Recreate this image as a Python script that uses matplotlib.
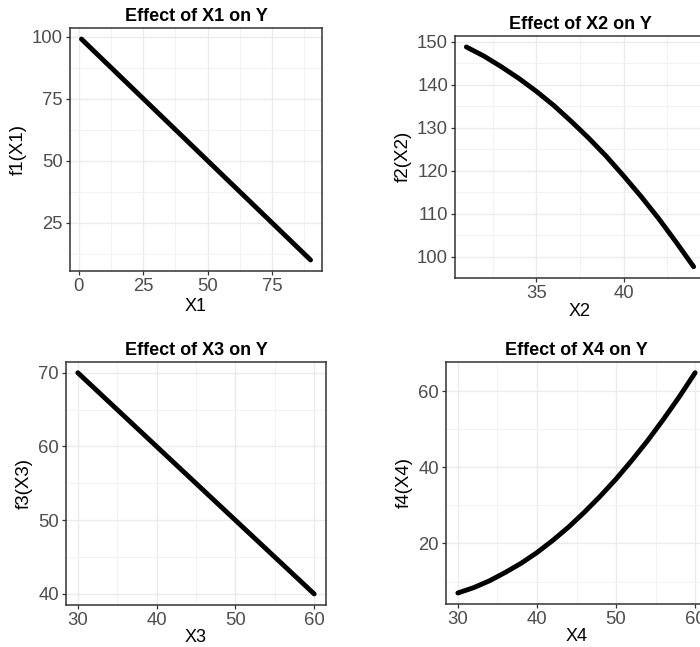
import matplotlib
matplotlib.use("Agg")
import matplotlib.pyplot as plt
from matplotlib.ticker import MultipleLocator

plt.rcParams['font.family'] = ['Liberation Sans', 'DejaVu Sans']

# ---- data ----
x1 = [1, 90]
f1 = [99, 10]

x2 = [31, 32, 33, 34, 35, 36, 37, 38, 39, 40, 41, 42, 43, 44]
f2 = [148.8, 146.7, 144.2, 141.5, 138.5, 135.2, 131.5, 127.6, 123.4, 118.8,
      114.0, 108.9, 103.4, 97.7]

x3 = [30, 60]
f3 = [70, 40]

x4 = [30, 32, 34, 36, 38, 40, 42, 44, 46, 48, 50, 52, 54, 56, 58, 60]
f4 = [7.0, 8.4, 10.2, 12.4, 14.8, 17.6, 20.8, 24.3, 28.2, 32.4, 36.9, 41.8,
      47.0, 52.6, 58.5, 64.8]

titles = ["Effect of X1 on Y", "Effect of X2 on Y", "Effect of X3 on Y", "Effect of X4 on Y"]
xlabels = ["X1", "X2", "X3", "X4"]
ylabels = ["f1(X1)", "f2(X2)", "f3(X3)", "f4(X4)"]

# ---- layout ----
W, H = 700, 647
boxes_px = [  # left, right, top, bottom in pixels
    (70, 322, 28, 271),
    (455, 705, 36, 277.7),
    (66, 326, 361.7, 605),
    (446, 707, 361.7, 604),
]
xmaj = [25, 5, 10, 10]
ymaj = [25, 10, 10, 20]
xlabpad = [2, 1, 0, 0]

fig = plt.figure(figsize=(W / 100, H / 100), dpi=100)
fig.patch.set_facecolor("white")

datasets = [(x1, f1), (x2, f2), (x3, f3), (x4, f4)]
for i, ((xs, ys), (l, r, t, b)) in enumerate(zip(datasets, boxes_px)):
    ax = fig.add_axes([l / W, 1 - b / H, (r - l) / W, (b - t) / H])
    ax.plot(xs, ys, color="black", lw=3.5, solid_capstyle="round", zorder=3)
    # ggplot-like 5% expansion
    xr = max(xs) - min(xs)
    yr = max(ys) - min(ys)
    ax.set_xlim(min(xs) - 0.05 * xr, max(xs) + 0.05 * xr)
    ax.set_ylim(min(ys) - 0.05 * yr, max(ys) + 0.05 * yr)
    ax.xaxis.set_major_locator(MultipleLocator(xmaj[i]))
    ax.yaxis.set_major_locator(MultipleLocator(ymaj[i]))
    ax.xaxis.set_minor_locator(MultipleLocator(xmaj[i] / 2))
    ax.yaxis.set_minor_locator(MultipleLocator(ymaj[i] / 2))
    ax.grid(which="major", color="#EBEBEB", lw=1.0, zorder=0)
    ax.grid(which="minor", color="#F2F2F2", lw=0.7, zorder=0)
    ax.set_axisbelow(True)
    for s in ax.spines.values():
        s.set_color("#333333")
        s.set_linewidth(1.1)
    ax.tick_params(which="major", length=3, width=0.9, color="#333333",
                   labelsize=13.3, labelcolor="#4D4D4D", pad=2)
    ax.tick_params(which="minor", length=0)
    ax.set_title(titles[i], fontsize=13, fontweight="bold", pad=5)
    ax.set_xlabel(xlabels[i], fontsize=13, labelpad=xlabpad[i])
    ax.set_ylabel(ylabels[i], fontsize=13.5, labelpad=4)

fig.savefig("out.png", dpi=100, facecolor="white")
